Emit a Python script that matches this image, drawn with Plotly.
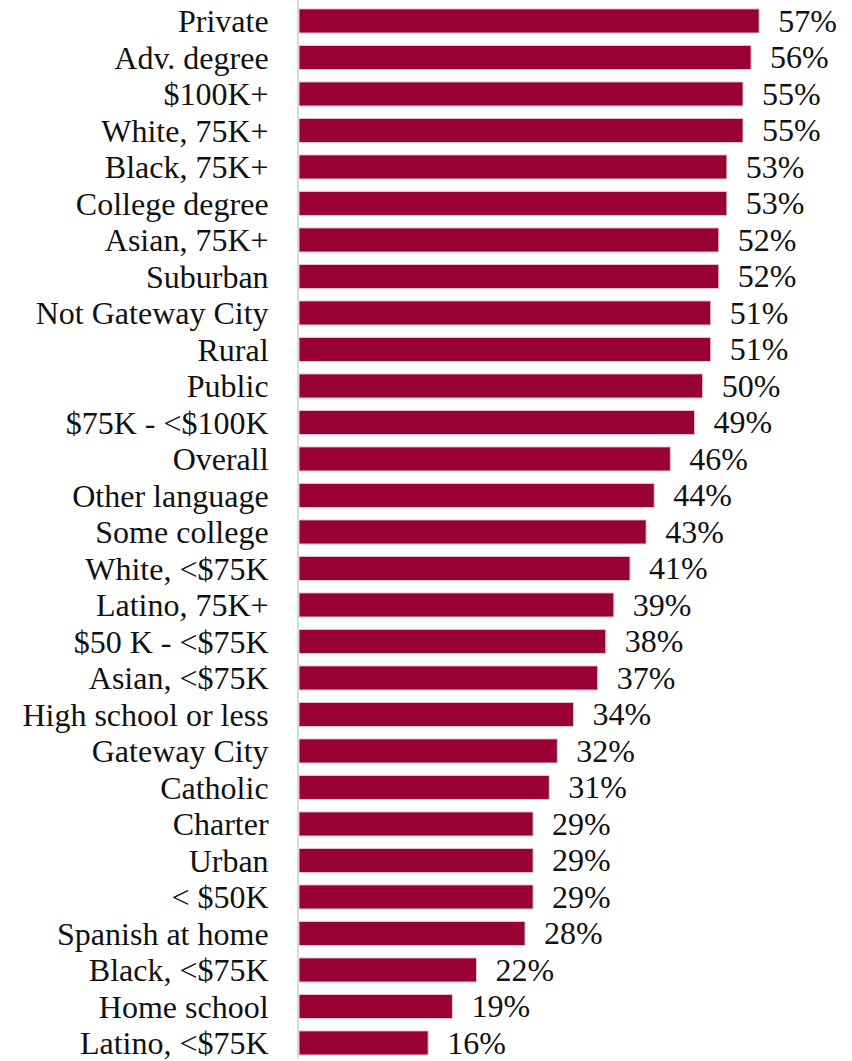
import plotly.graph_objects as go

categories = [
    "Private", "Adv. degree", "$100K+", "White, 75K+", "Black, 75K+",
    "College degree", "Asian, 75K+", "Suburban", "Not Gateway City", "Rural",
    "Public", "$75K - <$100K", "Overall", "Other language", "Some college",
    "White, <$75K", "Latino, 75K+", "$50 K - <$75K", "Asian, <$75K",
    "High school or less", "Gateway City", "Catholic", "Charter", "Urban",
    "< $50K", "Spanish at home", "Black, <$75K", "Home school", "Latino, <$75K",
]
values = [
    57, 56, 55, 55, 53, 53, 52, 52, 51, 51, 50, 49, 46, 44, 43,
    41, 39, 38, 37, 34, 32, 31, 29, 29, 29, 28, 22, 19, 16,
]

FONT = "Liberation Serif"
SIZE = 32

fig = go.Figure(
    go.Bar(
        x=values,
        y=categories,
        orientation="h",
        marker=dict(color="#990033", line=dict(color="#e8c8d2", width=1)),
        text=[f"  {v}%" for v in values],
        textposition="outside",
        constraintext="none",
        cliponaxis=False,
        textfont=dict(family=FONT, size=SIZE, color="#111111"),
    )
)

fig.update_layout(
    width=852,
    height=1061,
    margin=dict(l=299, r=0, t=0, b=0),
    paper_bgcolor="white",
    plot_bgcolor="white",
    bargap=0.34,
    showlegend=False,
    font=dict(family=FONT, size=SIZE, color="#111111"),
)
fig.update_xaxes(range=[0, 68.5], visible=False, fixedrange=True)
fig.update_yaxes(
    range=[28.44, -0.574],
    tickmode="array",
    tickvals=categories,
    ticktext=categories,
    showline=True,
    linecolor="#d9d9d9",
    linewidth=2,
    ticks="",
    showgrid=False,
    ticklabelstandoff=22,
    tickfont=dict(family=FONT, size=SIZE, color="#111111"),
    fixedrange=True,
)

fig.write_html("out.html")
